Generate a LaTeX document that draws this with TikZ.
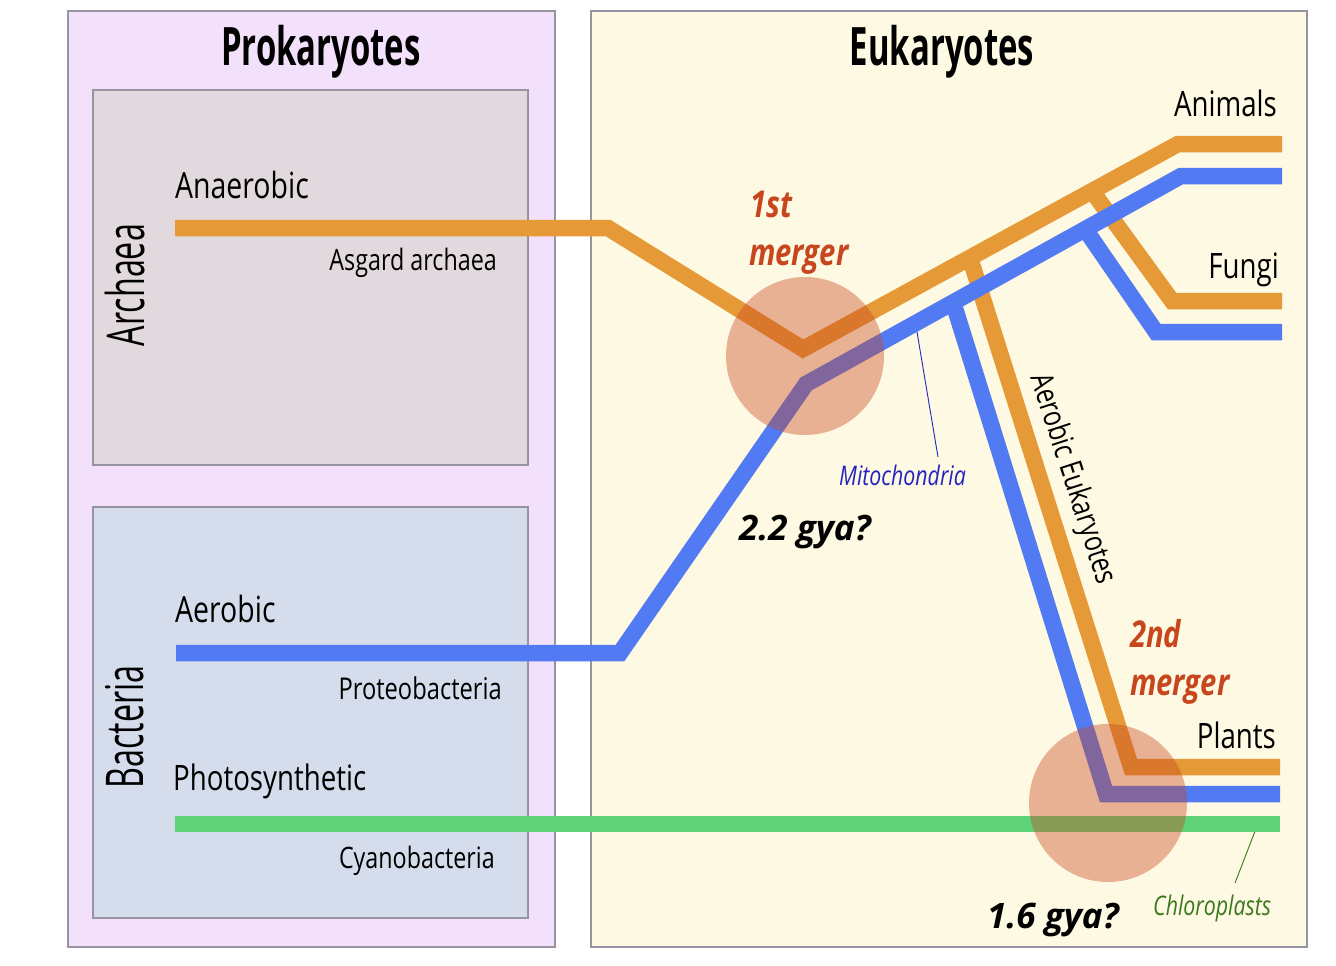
\documentclass[tikz,border=0pt]{standalone}
\usepackage{fontspec}
\setmainfont{Open Sans}
\newfontfamily\labfnt[FakeStretch=0.79]{Open Sans}
\newfontfamily\bigfnt[FakeStretch=0.62]{Open Sans}
\newfontfamily\widefnt{Open Sans}
\newcommand\fs[1]{\fontsize{#1}{#1}\selectfont}
\definecolor{prok}{RGB}{243,224,250}
\definecolor{euk}{RGB}{254,249,227}
\definecolor{arch}{RGB}{226,217,222}
\definecolor{bact}{RGB}{213,220,235}
\definecolor{edgec}{RGB}{150,148,160}
\definecolor{orng}{RGB}{229,154,55}
\definecolor{blu}{RGB}{82,122,242}
\definecolor{grn}{RGB}{96,210,122}
\definecolor{mrg}{RGB}{200,70,30}
\definecolor{mitoc}{RGB}{35,35,190}
\definecolor{chlc}{RGB}{60,120,30}
\tikzset{
  panel/.style={draw=edgec, line width=1.2pt},
  lineage/.style={line width=16.5pt, line join=miter},
  lbl/.style={inner sep=0pt, font=\labfnt\fs{#1}},
  biglbl/.style={inner sep=0pt, font=\bigfnt\fs{#1}},
  mergelbl/.style={inner sep=0pt, font=\labfnt\bfseries\itshape\fs{37}, text=mrg, anchor=base west},
  agelbl/.style={inner sep=0pt, font=\widefnt\bfseries\itshape\fs{35}, anchor=base west},
  mergecircle/.style={circle, minimum size=158pt, inner sep=0pt, fill=mrg, fill opacity=0.4},
}
\begin{document}
\begin{tikzpicture}[x=1pt, y=-1pt]
\useasboundingbox (0,0) rectangle (1336,966);
\fill[white] (0,0) rectangle (1336,966);
% panels
\draw[panel, fill=prok] (68,11) rectangle (555,947);
\draw[panel, fill=euk] (591,11) rectangle (1307,947);
\draw[panel, fill=arch] (93,90) rectangle (528,465);
\draw[panel, fill=bact] (93,507) rectangle (528,918);
% titles
\node[biglbl=53, font=\bigfnt\bfseries\fs{53}, anchor=base] (prokt) at (321,66) {Prokaryotes};
\node[biglbl=53, font=\bigfnt\bfseries\fs{53}, anchor=base] (eukt) at (942,66) {Eukaryotes};
\node[biglbl=52, rotate=90, anchor=base] (archt) at (144,285) {Archaea};
\node[biglbl=52, rotate=90, anchor=base] (bactt) at (143,727) {Bacteria};
% coordinates
\coordinate (o1) at (175,228); \coordinate (o2) at (608,228); \coordinate (o3) at (803,349);
\coordinate (o4) at (1178,144); \coordinate (o5) at (1282,144);
\coordinate (of1) at (1092,191); \coordinate (of2) at (1172,301); \coordinate (of3) at (1282,301);
\coordinate (op1) at (970,258); \coordinate (op2) at (1131,767); \coordinate (op3) at (1280,767);
\coordinate (b1) at (176,653); \coordinate (b2) at (620,653); \coordinate (b3) at (806,384);
\coordinate (b4) at (1181,176); \coordinate (b5) at (1282,176);
\coordinate (bf1) at (1085,229); \coordinate (bf2) at (1156,332); \coordinate (bf3) at (1282,332);
\coordinate (bp1) at (953,302); \coordinate (bp2) at (1106,794); \coordinate (bp3) at (1280,794);
\coordinate (g1) at (175,824); \coordinate (g2) at (1280,824);
\coordinate (mtip) at (916,326); \coordinate (mend) at (938,457);
\coordinate (ctip) at (1257,826); \coordinate (cend) at (1235,883);
% pointers
\draw[mitoc, line width=0.9pt] (mtip) -- (mend);
\draw[chlc, line width=0.9pt] (ctip) -- (cend);
% lineages
\draw[lineage, orng] (o1) -- (o2) -- (o3) -- (o4) -- (o5);
\draw[lineage, orng] (of1) -- (of2) -- (of3);
\draw[lineage, orng] (op1) -- (op2) -- (op3);
\draw[lineage, blu] (b1) -- (b2) -- (b3) -- (b4) -- (b5);
\draw[lineage, blu] (bf1) -- (bf2) -- (bf3);
\draw[lineage, blu] (bp1) -- (bp2) -- (bp3);
\draw[lineage, grn] (g1) -- (g2);
% merger circles
\node[mergecircle] (c1) at (805,356) {};
\node[mergecircle] (c2) at (1108,803) {};
% labels
\node[lbl=36, anchor=base west] (anaer) at (175,198) {Anaerobic};
\node[lbl=29.5, anchor=base east] (asg) at (497,270) {Asgard archaea};
\node[lbl=36, anchor=base west] (aer) at (175,622) {Aerobic};
\node[lbl=30, anchor=base east] (prot) at (502,699) {Proteobacteria};
\node[lbl=35, anchor=base west] (phot) at (173,790) {Photosynthetic};
\node[lbl=29.5, anchor=base east] (cyan) at (495,868) {Cyanobacteria};
\node[lbl=35, anchor=base east] (anim) at (1277,117) {Animals};
\node[lbl=35, anchor=base east] (fung) at (1279,278) {Fungi};
\node[lbl=35, anchor=base east] (plnt) at (1276,748) {Plants};
\node[lbl=31, rotate=-72] (aeuk) at (1072,479) {Aerobic Eukaryotes};
\node[lbl=27, font=\labfnt\itshape\fs{27}, text=mitoc, anchor=base west] (mito) at (839,485) {Mitochondria};
\node[lbl=27, font=\labfnt\itshape\fs{27}, text=chlc, anchor=base west] (chl) at (1153,915) {Chloroplasts};
\node[mergelbl] (m1a) at (750,217) {1st};
\node[mergelbl] (m1b) at (749,265) {merger};
\node[mergelbl] (m2a) at (1130,647) {2nd};
\node[mergelbl] (m2b) at (1130,695) {merger};
\node[agelbl] (age1) at (739,540) {2.2 gya?};
\node[agelbl] (age2) at (987,928) {1.6 gya?};
\end{tikzpicture}
\end{document}
